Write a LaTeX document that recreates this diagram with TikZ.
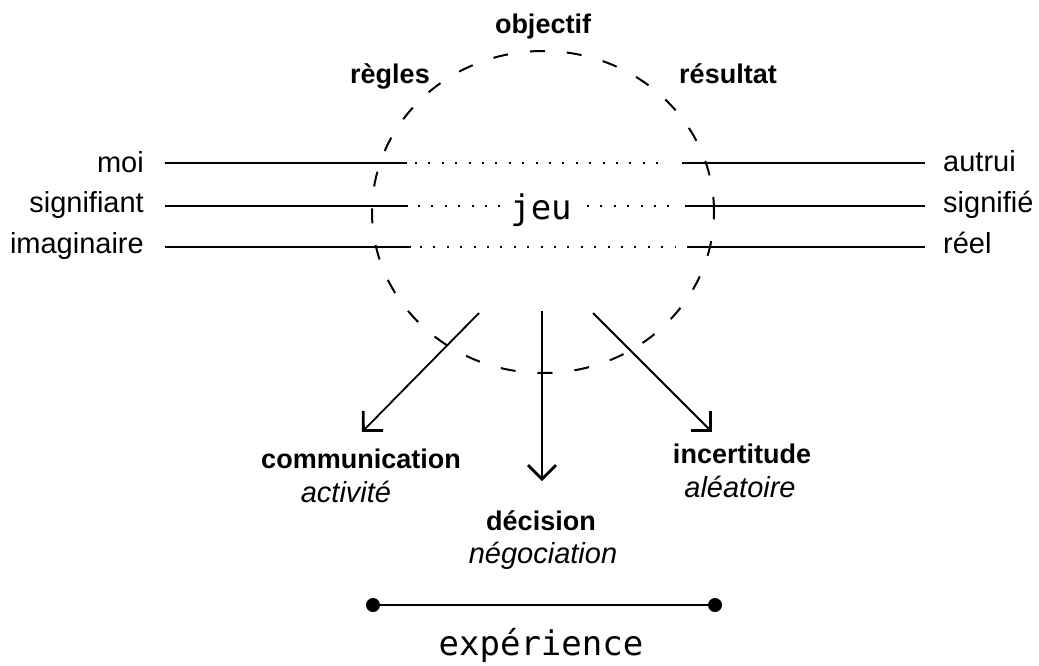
\documentclass[tikz,border=0pt]{standalone}
\usepackage{fontspec}
\setmainfont{Liberation Sans}
\setmonofont{DejaVu Sans Mono}
\usetikzlibrary{arrows.meta,positioning}

\tikzset{
  term/.style={font=\fontsize{29}{34}\selectfont,inner sep=0pt,anchor=base},
  pole/.style={font=\bfseries\fontsize{27}{32}\selectfont,inner sep=0pt,anchor=base},
  nuance/.style={font=\itshape\fontsize{29}{34}\selectfont,inner sep=0pt,anchor=base},
  mono/.style={font=\ttfamily\fontsize{34}{40}\selectfont,inner sep=0pt,anchor=base},
  axe/.style={line width=2pt},
  pointille/.style={line width=2pt,dash pattern=on 2pt off 11.4pt},
  flux/.style={line width=1.8pt,-{Straight Barb[length=14pt,width=28pt,line width=2.8pt]}},
  point/.style={circle,fill,inner sep=0pt,minimum size=14pt},
}

\begin{document}
\begin{tikzpicture}[x=1pt,y=-1pt]
    \useasboundingbox (0,0) rectangle (1039,665);
    % le cercle du jeu
    \draw[line width=2pt,dash pattern=on 15pt off 22pt] (543,212) ellipse [x radius=171pt, y radius=161pt];
    \node[pole] (objectif) at (543,33) {objectif};
    \node[pole] (regles) at (390,83) {règles};
    \node[pole] (resultat) at (728,83) {résultat};
    % les trois axes
    \node[term,anchor=base east] (moi) at (144,172) {moi};
    \node[term,anchor=base east] (signifiant) at (144,212) {signifiant};
    \node[term,anchor=base east] (imaginaire) at (144,253) {imaginaire};
    \node[term,anchor=base west] (autrui) at (943,171) {autrui};
    \node[term,anchor=base west] (signifie) at (943,212) {signifié};
    \node[term,anchor=base west] (reel) at (943,253) {réel};
    \node[mono] (jeu) at (541,219) {jeu};
    \coordinate (m1) at (165,163); \coordinate (m2) at (407,163);
    \coordinate (m3) at (415,163); \coordinate (m4) at (662,163);
    \coordinate (m5) at (682,163); \coordinate (m6) at (925,163);
    \coordinate (s1) at (165,206); \coordinate (s2) at (408,206);
    \coordinate (s3) at (418,206); \coordinate (s4) at (502,206);
    \coordinate (s5) at (587,206); \coordinate (s6) at (673,206);
    \coordinate (s7) at (685,206); \coordinate (s8) at (925,206);
    \coordinate (i1) at (165,247); \coordinate (i2) at (411,247);
    \coordinate (i3) at (420,247); \coordinate (i4) at (675,247);
    \coordinate (i5) at (687,247); \coordinate (i6) at (925,247);
    \draw[axe] (m1) -- (m2);
    \draw[pointille] (m3) -- (m4);
    \draw[axe] (m5) -- (m6);
    \draw[axe] (s1) -- (s2);
    \draw[pointille] (s3) -- (s4);
    \draw[pointille] (s5) -- (s6);
    \draw[axe] (s7) -- (s8);
    \draw[axe] (i1) -- (i2);
    \draw[pointille] (i3) -- (i4);
    \draw[axe] (i5) -- (i6);
    % sorties
    \coordinate (d1) at (479,313); \coordinate (f1) at (362,432);
    \coordinate (d2) at (542,311); \coordinate (f2) at (542,481);
    \coordinate (d3) at (593,313); \coordinate (f3) at (712,432);
    \draw[flux] (d1) -- (f1);
    \draw[flux] (d2) -- (f2);
    \draw[flux] (d3) -- (f3);
    \node[pole] (communication) at (361,468) {communication};
    \node[nuance] (activite) at (346,502) {activité};
    \node[pole] (decision) at (541,530) {décision};
    \node[nuance] (negociation) at (543,563) {négociation};
    \node[pole] (incertitude) at (742,463) {incertitude};
    \node[nuance] (aleatoire) at (740,497) {aléatoire};
    % experience
    \node[point] (e1) at (373,605) {};
    \node[point] (e2) at (715,605) {};
    \draw[axe] (e1) -- (e2);
    \node[mono] (experience) at (541,655) {expérience};
\end{tikzpicture}
\end{document}
